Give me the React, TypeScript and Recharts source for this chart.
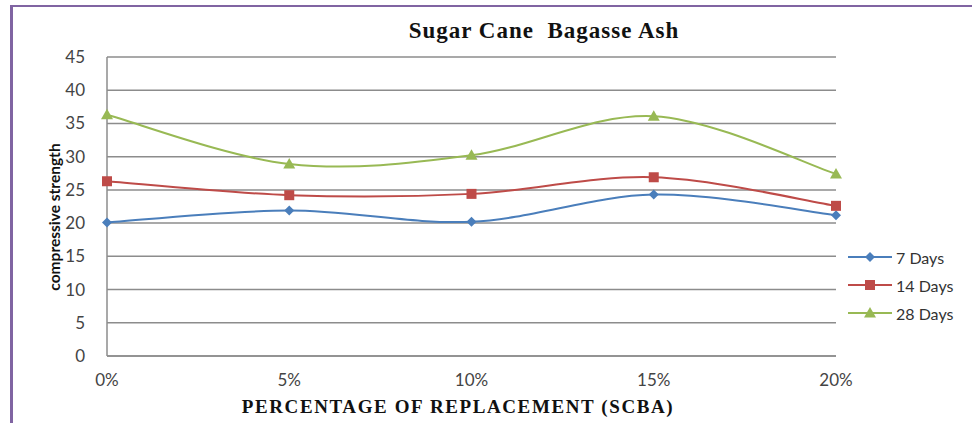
import { LineChart, Line, XAxis, YAxis, CartesianGrid } from "recharts";

const categories = ["0%", "5%", "10%", "15%", "20%"];
const days7 = [20.1, 21.9, 20.2, 24.3, 21.2];
const days14 = [26.3, 24.2, 24.4, 26.9, 22.6];
const days28 = [36.3, 28.9, 30.2, 36.1, 27.4];
const yTicks = [0, 5, 10, 15, 20, 25, 30, 35, 40, 45];

const SERIES = [
  { key: "d7", name: "7 Days", color: "#4A7EBB", shape: "diamond" },
  { key: "d14", name: "14 Days", color: "#BE4B48", shape: "square" },
  { key: "d28", name: "28 Days", color: "#98B954", shape: "triangle" },
] as const;

const data = categories.map((c, i) => ({
  cat: c,
  d7: days7[i],
  d14: days14[i],
  d28: days28[i],
}));

const TICK_FONT = "Lato, 'Open Sans', sans-serif";
const SERIF = "'Liberation Serif', 'DejaVu Serif', serif";

// Excel-style smoothed line (Catmull-Rom through the points)
function excelSmooth(context: any) {
  let pts: [number, number][] = [];
  return {
    areaStart() {},
    areaEnd() {},
    lineStart() {
      pts = [];
    },
    point(x: number, y: number) {
      pts.push([+x, +y]);
    },
    lineEnd() {
      const n = pts.length;
      if (!n) return;
      context.moveTo(pts[0][0], pts[0][1]);
      for (let i = 0; i < n - 1; i++) {
        const p0 = pts[Math.max(i - 1, 0)];
        const p1 = pts[i];
        const p2 = pts[i + 1];
        const p3 = pts[Math.min(i + 2, n - 1)];
        context.bezierCurveTo(
          p1[0] + (p2[0] - p0[0]) / 6,
          p1[1] + (p2[1] - p0[1]) / 6,
          p2[0] - (p3[0] - p1[0]) / 6,
          p2[1] - (p3[1] - p1[1]) / 6,
          p2[0],
          p2[1],
        );
      }
    },
  };
}

function Marker({ cx, cy, shape, color }: any) {
  if (cx == null || cy == null) return null;
  if (shape === "diamond") {
    const r = 5;
    return (
      <path
        d={`M${cx},${cy - r}L${cx + r},${cy}L${cx},${cy + r}L${cx - r},${cy}Z`}
        fill={color}
      />
    );
  }
  if (shape === "square") {
    return <rect x={cx - 5} y={cy - 5} width={10} height={10} fill={color} />;
  }
  return (
    <path
      d={`M${cx},${cy - 6}L${cx + 6},${cy + 4.5}L${cx - 6},${cy + 4.5}Z`}
      fill={color}
    />
  );
}

function LegendBox() {
  return (
    <div style={{ fontFamily: TICK_FONT, fontSize: 16, color: "#333" }}>
      {SERIES.map((s) => (
        <div
          key={s.key}
          style={{ display: "flex", alignItems: "center", height: 28 }}
        >
          <svg width={44} height={14} style={{ marginRight: 4 }}>
            <line x1={0} y1={7} x2={44} y2={7} stroke={s.color} strokeWidth={2} />
            <Marker cx={22} cy={7} shape={s.shape} color={s.color} />
          </svg>
          <span>{s.name}</span>
        </div>
      ))}
    </div>
  );
}

export default function App() {
  return (
    <div
      style={{
        position: "absolute",
        left: 0,
        top: 0,
        width: 972,
        height: 423,
        background: "#fff",
        overflow: "hidden",
      }}
    >
      <div
        style={{
          position: "absolute",
          left: 10,
          top: 5,
          width: 962,
          height: 2,
          background: "#8064A2",
        }}
      />
      <div
        style={{
          position: "absolute",
          left: 10,
          top: 5,
          width: 3,
          height: 418,
          background: "#8064A2",
        }}
      />
      <div
        style={{
          position: "absolute",
          left: 0,
          top: 18,
          width: 1088,
          textAlign: "center",
          fontFamily: SERIF,
          fontWeight: "bold",
          fontSize: 23,
          color: "#111",
          letterSpacing: 1,
        }}
      >
        Sugar Cane&nbsp; Bagasse Ash
      </div>
      <div
        style={{
          position: "absolute",
          left: 0,
          top: 396,
          width: 916,
          textAlign: "center",
          fontFamily: SERIF,
          fontWeight: "bold",
          fontSize: 19,
          letterSpacing: 1.6,
          color: "#111",
        }}
      >
        PERCENTAGE OF REPLACEMENT (SCBA)
      </div>
      <div
        style={{
          position: "absolute",
          left: 54,
          top: 217,
          transform: "translate(-50%, -50%) rotate(-90deg)",
          fontFamily: TICK_FONT,
          fontWeight: "bold",
          fontSize: 15.5,
          color: "#111",
          whiteSpace: "nowrap",
        }}
      >
        compressive strength
      </div>
      <LineChart
        width={972}
        height={423}
        data={data}
        margin={{ top: 57, right: 136, bottom: 37, left: 57 }}
        style={{ position: "absolute", left: 0, top: 0 }}
      >
        <CartesianGrid vertical={false} stroke="#8c8c8c" strokeWidth={1.5} />
        <XAxis
          dataKey="cat"
          height={30}
          stroke="#8c8c8c"
          strokeWidth={1.5}
          tickLine={false}
          tickMargin={12}
          tick={{ fill: "#444", fontSize: 17, fontFamily: TICK_FONT }}
        />
        <YAxis
          width={50}
          domain={[0, 45]}
          ticks={yTicks}
          interval={0}
          stroke="#8c8c8c"
          strokeWidth={1.5}
          tickLine={false}
          tickMargin={16}
          tick={{ fill: "#444", fontSize: 17, fontFamily: TICK_FONT }}
        />
        {SERIES.map((s) => (
          <Line
            key={s.key}
            type={excelSmooth as any}
            dataKey={s.key}
            name={s.name}
            stroke={s.color}
            strokeWidth={2}
            isAnimationActive={false}
            dot={(p: any) => (
              <Marker
                key={`${s.key}-${p.index}`}
                cx={p.cx}
                cy={p.cy}
                shape={s.shape}
                color={s.color}
              />
            )}
            activeDot={false}
          />
        ))}
      </LineChart>
      <div style={{ position: "absolute", left: 848, top: 243 }}>
        <LegendBox />
      </div>
    </div>
  );
}
